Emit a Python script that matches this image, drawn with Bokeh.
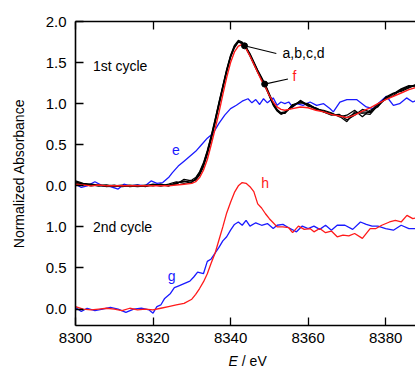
import numpy as np
from bokeh.plotting import figure
from bokeh.layouts import column
from bokeh.models import LinearAxis, FixedTicker, Label, Range1d, CustomLabelingPolicy
from bokeh.core.properties import value
from bokeh.embed import file_html
from bokeh.resources import INLINE

# ---------------- data ----------------
# common energy grid for the 1st-cycle spectra a,b,c,d and f
energy_1 = [8300, 8302, 8304, 8306, 8308, 8310, 8312, 8314, 8316, 8318, 8320, 8322, 8324, 8326, 8328, 8330,
            8331, 8332, 8333, 8334, 8335, 8336, 8337, 8338, 8339, 8340, 8341, 8342, 8343, 8344, 8345, 8346,
            8347, 8348, 8349, 8350, 8351, 8352, 8353, 8354,
            8356, 8358, 8360, 8362, 8364, 8366, 8368, 8370, 8372, 8374, 8376, 8378, 8380, 8382, 8384, 8386, 8388]

abs_a = [0.06, 0.03, 0.02, 0.01, 0.01, 0.00, 0.00, 0.00, -0.01, 0.00, 0.01, 0.00, 0.02, 0.05, 0.03, 0.05,
         0.08, 0.14, 0.25, 0.40, 0.58, 0.78, 0.99, 1.20, 1.40, 1.57, 1.69, 1.76, 1.74, 1.68, 1.60, 1.50,
         1.40, 1.31, 1.22, 1.10, 0.99, 0.92, 0.88, 0.89,
         0.97, 1.02, 0.99, 0.94, 0.91, 0.88, 0.85, 0.78, 0.90, 0.88, 0.87, 0.98, 1.07, 1.12, 1.16, 1.20, 1.22]
abs_b = [0.04, 0.02, 0.00, 0.01, -0.01, 0.00, 0.01, -0.01, 0.00, 0.01, 0.00, 0.02, 0.00, 0.03, 0.06, 0.04,
         0.09, 0.16, 0.27, 0.42, 0.60, 0.80, 1.01, 1.21, 1.41, 1.58, 1.70, 1.75, 1.73, 1.67, 1.58, 1.48,
         1.38, 1.29, 1.20, 1.09, 0.98, 0.91, 0.87, 0.89,
         0.98, 1.03, 0.97, 0.95, 0.90, 0.86, 0.87, 0.80, 0.86, 0.93, 0.90, 1.00, 1.05, 1.10, 1.17, 1.21, 1.23]
abs_c = [0.05, 0.02, 0.01, 0.00, 0.00, 0.01, -0.01, 0.00, 0.01, -0.01, 0.01, 0.00, 0.01, 0.02, 0.08, 0.06,
         0.07, 0.13, 0.23, 0.38, 0.56, 0.76, 0.97, 1.18, 1.38, 1.56, 1.68, 1.75, 1.74, 1.69, 1.61, 1.51,
         1.41, 1.32, 1.23, 1.12, 1.01, 0.93, 0.89, 0.90,
         0.96, 1.04, 0.98, 0.93, 0.92, 0.89, 0.84, 0.86, 0.92, 0.84, 0.92, 0.96, 1.08, 1.13, 1.15, 1.19, 1.24]
abs_d = [0.03, 0.01, 0.01, 0.00, 0.01, -0.01, 0.00, 0.01, 0.00, 0.00, 0.02, 0.01, 0.00, 0.04, 0.05, 0.07,
         0.10, 0.17, 0.28, 0.43, 0.61, 0.81, 1.02, 1.22, 1.42, 1.59, 1.71, 1.77, 1.75, 1.69, 1.59, 1.49,
         1.39, 1.30, 1.21, 1.11, 1.00, 0.92, 0.88, 0.88,
         0.99, 1.01, 1.00, 0.94, 0.90, 0.87, 0.86, 0.83, 0.88, 0.90, 0.89, 0.97, 1.06, 1.12, 1.18, 1.22, 1.21]
abs_f = [0.02, 0.01, 0.00, 0.01, 0.00, 0.00, 0.00, 0.00, 0.00, 0.00, 0.00, 0.00, 0.00, 0.01, 0.02, 0.03,
         0.05, 0.10, 0.19, 0.32, 0.50, 0.69, 0.89, 1.11, 1.32, 1.50, 1.63, 1.70, 1.72, 1.67, 1.58, 1.48,
         1.38, 1.28, 1.20, 1.10, 1.02, 0.96, 0.93, 0.92,
         0.94, 0.96, 0.95, 0.92, 0.90, 0.87, 0.85, 0.83, 0.86, 0.91, 0.95, 1.00, 1.05, 1.09, 1.13, 1.17, 1.20]

energy_e = [8300, 8301.5, 8303, 8305, 8307, 8309, 8311, 8312.5, 8314, 8316, 8318, 8319.5, 8321, 8322.5, 8324,
            8325, 8326.5, 8328, 8329.5, 8331, 8332.5, 8334, 8335.5, 8337, 8338.5, 8340, 8341.5, 8343, 8344.5,
            8345.5, 8346.5, 8347.5, 8348.5, 8349.5, 8351, 8352, 8353, 8354, 8355, 8356, 8357, 8358.7, 8360.5,
            8362.2, 8364, 8365.6, 8366.5, 8368.2, 8370, 8372.5, 8375, 8376.8, 8378.5, 8380.2, 8382, 8383.6,
            8385.4, 8387, 8388.5]
abs_e = [0.02, -0.02, 0.00, 0.05, 0.00, -0.01, -0.04, 0.02, 0.00, 0.01, 0.00, 0.06, 0.03, 0.04, 0.10,
         0.16, 0.24, 0.30, 0.36, 0.42, 0.50, 0.58, 0.64, 0.76, 0.86, 0.94, 0.98, 1.03, 1.06,
         1.01, 1.05, 0.99, 1.06, 1.01, 1.07, 0.98, 1.02, 1.00, 1.02, 0.96, 1.00, 0.98, 1.02,
         0.98, 1.00, 0.94, 0.90, 1.02, 1.05, 1.05, 0.96, 0.94, 1.02, 1.09, 0.98, 1.00,
         1.07, 1.02, 1.05]

energy_h = [8300, 8302, 8304, 8306, 8308, 8310, 8312, 8314, 8316, 8318, 8320, 8322, 8324, 8326, 8328, 8330,
            8331, 8332, 8333, 8334, 8335, 8336, 8337, 8338, 8339, 8340, 8341, 8342, 8343, 8344, 8345, 8346,
            8347, 8348, 8349, 8350, 8351, 8352, 8353.5, 8355, 8356, 8357.5, 8359, 8360.5, 8361.5, 8363,
            8364.5, 8366, 8367.5, 8369, 8370.5, 8372, 8374, 8376, 8377.5, 8379, 8381, 8382.5, 8384, 8385.5,
            8387, 8388.5]
abs_h = [0.03, 0.00, -0.01, 0.00, 0.01, 0.00, -0.02, 0.01, -0.01, 0.00, -0.01, 0.01, 0.03, 0.05, 0.07, 0.12,
         0.18, 0.25, 0.33, 0.43, 0.56, 0.68, 0.84, 1.00, 1.17, 1.30, 1.42, 1.50, 1.54, 1.53, 1.49, 1.43,
         1.28, 1.23, 1.16, 1.10, 1.05, 1.00, 1.00, 0.99, 0.93, 1.01, 0.97, 0.98, 0.94, 0.98,
         0.93, 0.95, 0.88, 0.90, 0.89, 0.92, 0.86, 0.98, 0.98, 1.02, 1.06, 1.08, 1.06, 1.14,
         1.10, 1.12]

energy_g = [8300, 8301.5, 8303, 8305, 8307, 8309, 8311, 8313, 8315, 8317, 8319, 8320, 8321, 8322, 8323, 8324.5,
            8325.5, 8326.5, 8328, 8329.5, 8330.5, 8331.5, 8333, 8334, 8335, 8336, 8337, 8338, 8339, 8340,
            8341, 8342, 8343, 8344, 8345, 8346.5, 8348, 8349.5, 8351, 8352, 8353.5, 8355, 8357, 8358.5,
            8360, 8361.5, 8363, 8364.5, 8366, 8367.5, 8369.5, 8371.5, 8373.5, 8375, 8376.5, 8378, 8380,
            8382, 8384, 8386, 8388]
abs_g = [0.02, -0.03, 0.01, -0.02, 0.00, 0.02, 0.00, -0.04, 0.00, 0.01, -0.01, -0.05, 0.03, 0.05, 0.13, 0.19,
         0.26, 0.28, 0.31, 0.34, 0.39, 0.45, 0.43, 0.58, 0.61, 0.68, 0.75, 0.83, 0.88, 0.96,
         1.03, 1.06, 1.02, 1.08, 1.01, 1.05, 1.02, 1.04, 0.98, 1.02, 1.03, 0.99, 0.94, 1.01,
         0.98, 1.01, 0.97, 1.02, 0.96, 1.02, 1.02, 0.97, 1.06, 1.03, 1.01, 1.01, 0.98,
         0.96, 1.02, 0.98, 0.98]

x_ticks = [8300, 8320, 8340, 8360, 8380]
y_ticks = [-1.5, -1.0, -0.5, 0.0, 0.5, 1.0, 1.5, 2.0]
y_tick_labels = ["0.0", "0.5", "1.0", "0.0", "0.5", "1.0", "1.5", "2.0"]

OFFSET = 1.5  # vertical shift of the 2nd-cycle panel
FONT = "Liberation Sans"
BLUE = "#1a1aff"
RED = "#ff1a1a"
X_RANGE = (8300, 8387.7)

# ---------------- main figure ----------------
p_main = figure(width=415, height=350, output_backend="svg", toolbar_location=None,
                x_range=Range1d(*X_RANGE), y_range=Range1d(-1.70, 2.0),
                min_border_left=75, min_border_right=0, min_border_top=21, min_border_bottom=25)
p_main.outline_line_color = None
p_main.grid.visible = False

# spectra
p_main.line(energy_e, abs_e, line_color=BLUE, line_width=1.3)
for arr in (abs_a, abs_b, abs_c, abs_d):
    p_main.line(energy_1, arr, line_color="black", line_width=1.2)
p_main.line(energy_1, abs_f, line_color=RED, line_width=1.4)

p_main.line(energy_g, [v - OFFSET for v in abs_g], line_color=BLUE, line_width=1.3)
p_main.line(energy_h, [v - OFFSET for v in abs_h], line_color=RED, line_width=1.3)

# leader dots and lines
dot_e = [8343.6, 8348.8]
dot_v = [float(np.interp(e, energy_1, abs_a)) for e in dot_e]
p_main.scatter(dot_e, dot_v, size=6, color="black")
p_main.line([dot_e[0], 8351.8], [dot_v[0], 1.61], line_color="black", line_width=1.1)
p_main.line([dot_e[1], 8354.8], [dot_v[1], 1.30], line_color="black", line_width=1.1)


def lab(x, y, text, color="black", align="left"):
    p_main.add_layout(Label(x=x, y=y, text=text, text_color=color, text_font=FONT,
                            text_font_size="14px", text_align=align, text_baseline="middle"))


lab(8304.5, 1.46, "1st cycle")
lab(8304.5, -0.50, "2nd cycle")
lab(8353.4, 1.62, "a,b,c,d")
lab(8356.0, 1.34, "f", RED)
lab(8325.9, 0.44, "e", BLUE, "center")
lab(8348.9, 1.54 - OFFSET, "h", RED, "center")
lab(8324.8, 0.40 - OFFSET, "g", BLUE, "center")

# axes
xa = p_main.xaxis[0]
xa.ticker = FixedTicker(ticks=x_ticks)
ya = p_main.yaxis[0]
ya.ticker = FixedTicker(ticks=y_ticks)
ya.major_label_overrides = {t: s for t, s in zip(y_ticks, y_tick_labels)}
ya.axis_label = "Normalized Absorbance"
ya.axis_label_text_font = FONT
ya.axis_label_text_font_size = "14px"
ya.axis_label_text_font_style = "normal"
ya.axis_label_text_color = "black"
ya.axis_label_standoff = 16

top = LinearAxis(ticker=FixedTicker(ticks=x_ticks))
top.major_label_policy = CustomLabelingPolicy(code="""
for (const i of indices) indices.unset(i)
return indices
""")
top.major_label_standoff = 0
p_main.add_layout(top, "above")

for ax in (xa, ya, top):
    ax.axis_line_width = 1.6
    ax.axis_line_color = "black"
    ax.major_tick_in = 8
    ax.major_tick_out = 0
    ax.major_tick_line_width = 1.3
    ax.major_tick_line_color = "black"
    ax.minor_tick_line_color = None
    ax.major_label_text_font = FONT
    ax.major_label_text_font_size = "15px"
    ax.major_label_text_color = "black"
xa.major_label_standoff = 7
ya.major_label_standoff = 9

# ---------------- strip for the x-axis title (italic E) ----------------
p_title = figure(width=415, height=21, output_backend="svg", toolbar_location=None,
                 x_range=p_main.x_range, y_range=Range1d(0, 1),
                 min_border_left=75, min_border_right=0, min_border_top=0, min_border_bottom=0)
p_title.outline_line_color = None
p_title.grid.visible = False
p_title.axis.visible = False
p_title.text(x=[8341.9], y=[0.48], text=["E"], text_font=value(FONT), text_font_size="14px",
             text_font_style="italic", text_align="right", text_baseline="middle", text_color="black")
p_title.text(x=[8341.9], y=[0.48], text=["\u00a0/\u00a0eV"], text_font=value(FONT), text_font_size="14px",
             text_align="left", text_baseline="middle", text_color="black")

p = column(p_main, p_title, spacing=0)

open("out.html", "w").write(file_html(p, INLINE))
